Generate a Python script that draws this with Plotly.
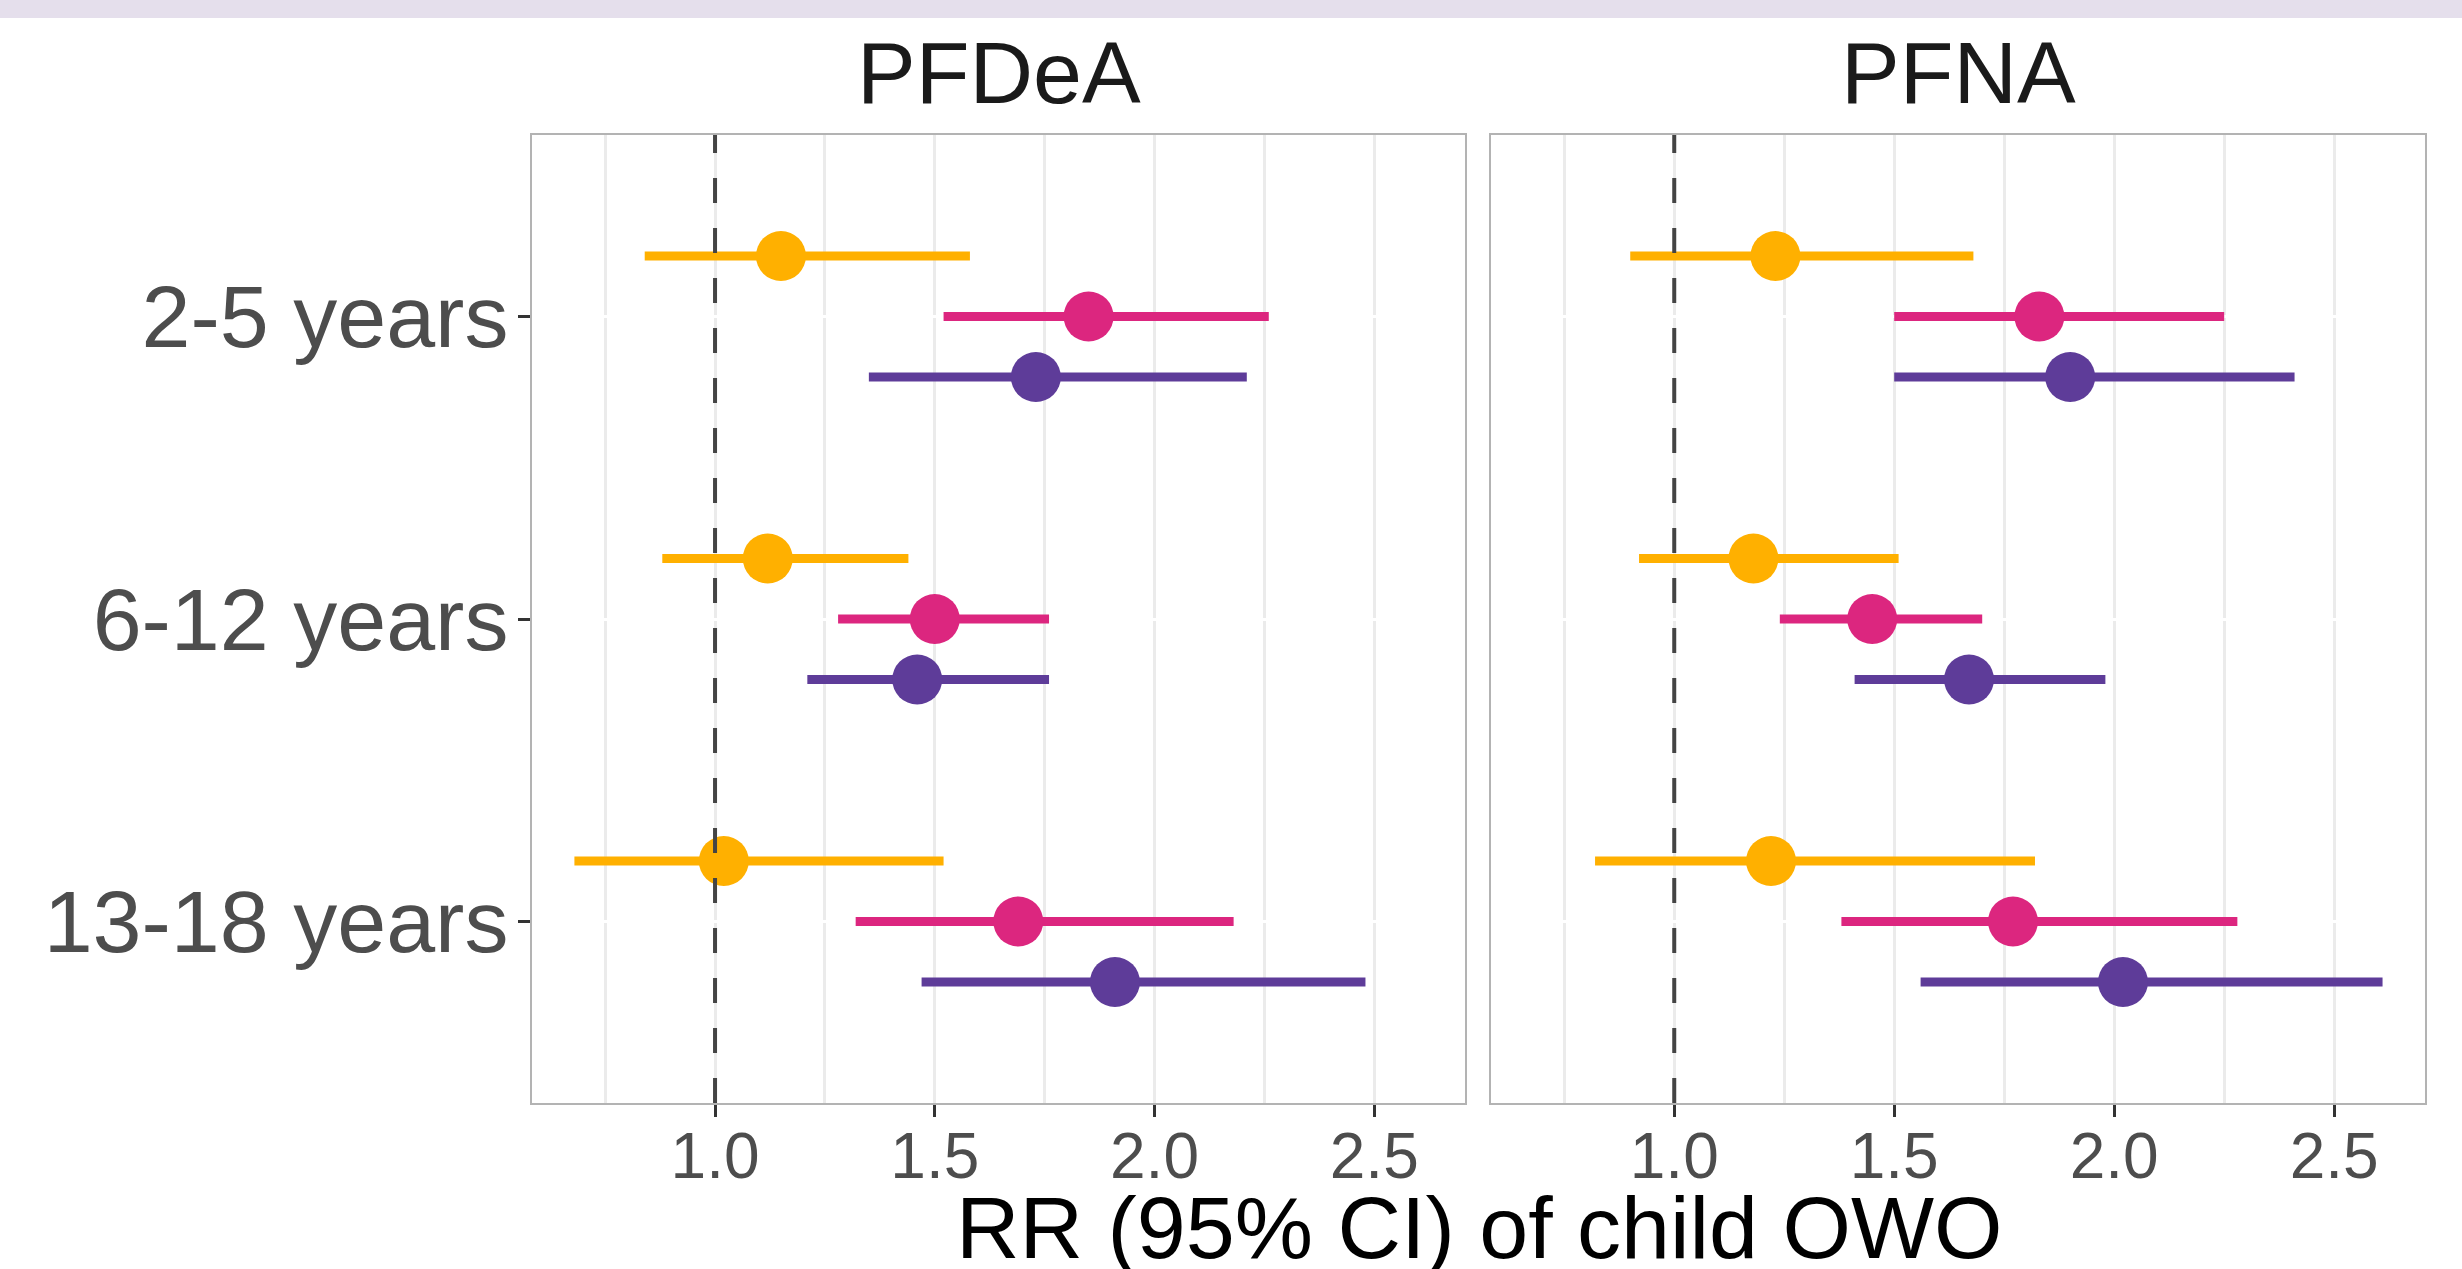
import plotly.graph_objects as go

# ---------------- data ----------------
age_groups = ["2-5 years", "6-12 years", "13-18 years"]
compounds = ["PFDeA", "PFNA"]
series_names = ["Series A", "Series B", "Series C"]
series_colors = ["#FFB000", "#DC267F", "#5E3C99"]

# PFDeA: rows = series, columns = age groups
pfdea_rr = [[1.15, 1.12, 1.02], [1.85, 1.50, 1.69], [1.73, 1.46, 1.91]]
pfdea_lo = [[0.84, 0.88, 0.68], [1.52, 1.28, 1.32], [1.35, 1.21, 1.47]]
pfdea_hi = [[1.58, 1.44, 1.52], [2.26, 1.76, 2.18], [2.21, 1.76, 2.48]]

# PFNA
pfna_rr = [[1.23, 1.18, 1.22], [1.83, 1.45, 1.77], [1.90, 1.67, 2.02]]
pfna_lo = [[0.90, 0.92, 0.82], [1.50, 1.24, 1.38], [1.50, 1.41, 1.56]]
pfna_hi = [[1.68, 1.51, 1.82], [2.25, 1.70, 2.28], [2.41, 1.98, 2.61]]

x_tick_vals = [1.0, 1.5, 2.0, 2.5]
x_title = "RR (95% CI) of child OWO"
reference_value = 1.0

# ---------------- layout geometry ----------------
W, H = 2462, 1269
FONT = "Liberation Sans, Arial, Helvetica, sans-serif"
px = lambda v: v / W
py = lambda v: 1 - v / H

panel_x = [(532, 1465), (1491, 2425)]
panel_top, panel_bottom = 135, 1103

data_sets = [
    (pfdea_rr, pfdea_lo, pfdea_hi),
    (pfna_rr, pfna_lo, pfna_hi),
]

# shared x range with 5% expansion like ggplot
all_vals = [v for ds in data_sets for arr in ds for row in arr for v in row]
vmin, vmax = min(all_vals), max(all_vals)
pad = 0.05 * (vmax - vmin)
x_range = [vmin - pad, vmax + pad]

n_cat = len(age_groups)
dodge = [-0.2, 0.0, 0.2]

fig = go.Figure()

for k, (rr, lo, hi) in enumerate(data_sets):
    xa = "x" if k == 0 else "x2"
    ya = "y" if k == 0 else "y2"
    for j, name in enumerate(series_names):
        ys = [i + 1 + dodge[j] for i in range(n_cat)]
        fig.add_trace(go.Scatter(
            x=rr[j], y=ys, mode="markers", name=name, showlegend=False,
            xaxis=xa, yaxis=ya,
            marker=dict(size=50, color=series_colors[j], line=dict(width=0)),
            error_x=dict(type="data", symmetric=False,
                         array=[h - r for h, r in zip(hi[j], rr[j])],
                         arrayminus=[r - l for r, l in zip(rr[j], lo[j])],
                         color=series_colors[j], thickness=9, width=0),
        ))

grid_col = "#EBEBEB"
border_col = "#B3B3B3"

def xaxis_cfg(k):
    x0, x1 = panel_x[k]
    return dict(
        domain=[px(x0), px(x1)], range=x_range, anchor="y" if k == 0 else "y2",
        tickvals=x_tick_vals, ticktext=[f"{v:.1f}" for v in x_tick_vals],
        showgrid=True, gridcolor=grid_col, gridwidth=3,
        minor=dict(dtick=0.25, tick0=0, showgrid=True, gridcolor=grid_col, gridwidth=3, ticks=""),
        zeroline=False, showline=True, mirror=True, linecolor=border_col, linewidth=2,
        ticks="outside", ticklen=12, tickwidth=3, tickcolor="#333333",
        tickfont=dict(family=FONT, size=64, color="#4D4D4D"),
        ticklabelstandoff=-16,
        fixedrange=True,
    )

def yaxis_cfg(k):
    return dict(
        domain=[py(panel_bottom), py(panel_top)], range=[n_cat + 0.6, 0.4],
        anchor="x" if k == 0 else "x2",
        tickvals=list(range(1, n_cat + 1)), ticktext=age_groups if k == 0 else [""] * n_cat,
        showticklabels=(k == 0),
        showgrid=True, gridcolor="#FFFFFF", gridwidth=3,
        zeroline=False, showline=True, mirror=True, linecolor=border_col, linewidth=2,
        ticks="outside" if k == 0 else "", ticklen=12, tickwidth=3, tickcolor="#333333",
        tickfont=dict(family=FONT, size=88, color="#4D4D4D"),
        ticklabelstandoff=-8,
        fixedrange=True,
    )

shapes = [
    dict(type="rect", xref="paper", yref="paper", x0=0, x1=1, y0=py(18), y1=1,
         fillcolor="#E5DFEC", line=dict(width=0), layer="below"),
]
for k in range(2):
    shapes.append(dict(
        type="line", xref="x" if k == 0 else "x2", yref=("y" if k == 0 else "y2") + " domain",
        x0=reference_value, x1=reference_value, y0=0, y1=1,
        line=dict(color="#444444", width=4, dash="25px,25px"), layer="above"))

annotations = []
for k, c in enumerate(compounds):
    x0, x1 = panel_x[k]
    annotations.append(dict(
        text=c, xref="paper", yref="paper", x=px((x0 + x1) / 2), y=py(73),
        xanchor="center", yanchor="middle", showarrow=False,
        font=dict(family=FONT, size=88, color="#1A1A1A")))
annotations.append(dict(
    text=x_title, xref="paper", yref="paper",
    x=px((panel_x[0][0] + panel_x[1][1]) / 2), y=py(1227),
    xanchor="center", yanchor="middle", showarrow=False,
    font=dict(family=FONT, size=88, color="#000000")))

fig.update_layout(
    width=W, height=H, autosize=False,
    margin=dict(l=0, r=0, t=0, b=0),
    paper_bgcolor="white", plot_bgcolor="white",
    xaxis=xaxis_cfg(0), xaxis2=xaxis_cfg(1),
    yaxis=yaxis_cfg(0), yaxis2=yaxis_cfg(1),
    shapes=shapes, annotations=annotations,
    showlegend=False,
)

fig.write_html("out.html", config={"displayModeBar": False},
               post_script="document.body.style.margin='0';document.body.style.overflow='hidden';")
